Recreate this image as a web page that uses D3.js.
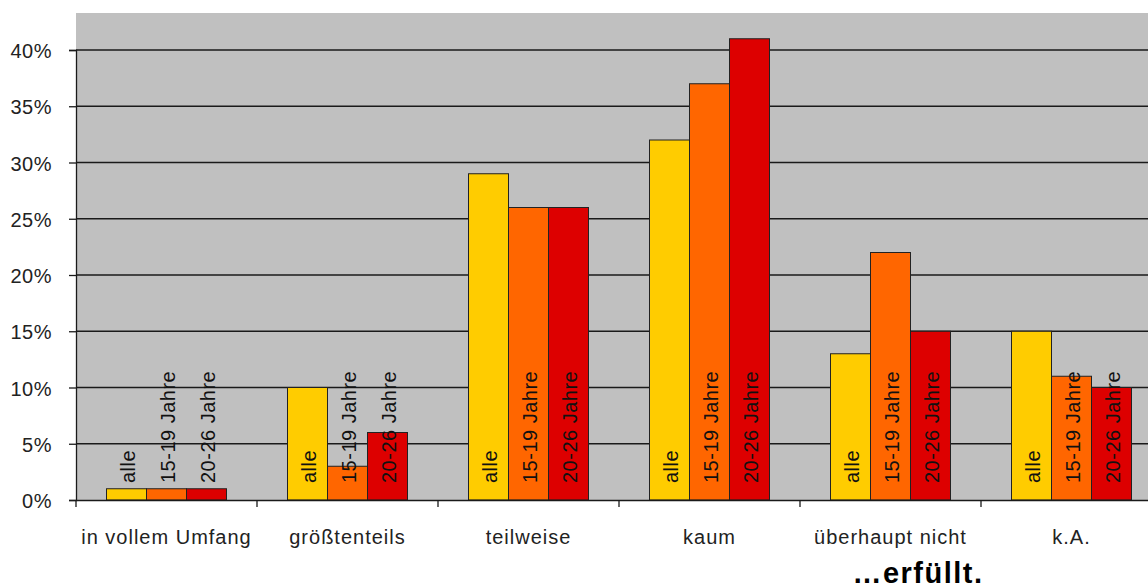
<!DOCTYPE html>
<html>
<head>
<meta charset="utf-8">
<script src="https://cdn.jsdelivr.net/npm/d3@7"></script>
<style>
  html, body { margin: 0; padding: 0; background: #fff; }
  svg { display: block; font-family: "Liberation Sans", Arial, sans-serif; }
</style>
</head>
<body>
<svg id="chart" width="1148" height="588"></svg>
<script>
// Categories and series
const categories = ["in vollem Umfang", "größtenteils", "teilweise", "kaum", "überhaupt nicht", "k.A."];
const seriesNames = ["alle", "15-19 Jahre", "20-26 Jahre"];
const alle      = [1, 10, 29, 32, 13, 15];
const jahre1519 = [1, 3, 26, 37, 22, 11];
const jahre2026 = [1, 6, 26, 41, 15, 10];
const seriesColors = ["#FFCC00", "#FF6600", "#DD0000"];
const yTicks = [0, 5, 10, 15, 20, 25, 30, 35, 40];
const footerText = "…erfüllt.";

const seriesValues = [alle, jahre1519, jahre2026];

const svg = d3.select("#chart");
const plot = { left: 76, top: 13, bottom: 500, right: 1162 };

const x = d3.scaleBand().domain(categories).range([plot.left, plot.right]).paddingInner(0).paddingOuter(0);
const xs = d3.scaleBand().domain(seriesNames).range([0, x.bandwidth()]).paddingInner(0).paddingOuter(0.7625);
const y = d3.scaleLinear().domain([0, 40]).range([plot.bottom, 50]);

// Plot background
svg.append("rect")
  .attr("x", plot.left).attr("y", plot.top)
  .attr("width", plot.right - plot.left).attr("height", plot.bottom - plot.top)
  .attr("fill", "#C0C0C0");

// Horizontal gridlines
svg.append("g").selectAll("line").data(yTicks.filter(d => d > 0)).join("line")
  .attr("x1", plot.left).attr("x2", plot.right)
  .attr("y1", d => y(d)).attr("y2", d => y(d))
  .attr("stroke", "#1a1a1a").attr("stroke-width", 1.3);

// Y axis
const yAxis = d3.axisLeft(y).tickValues(yTicks).tickFormat(d => d + "%").tickSize(7).tickPadding(17);
const gy = svg.append("g").attr("transform", `translate(${plot.left},0)`).call(yAxis);
gy.select(".domain").attr("stroke", "#1a1a1a").attr("stroke-width", 1.3);
gy.selectAll(".tick line").attr("stroke", "#1a1a1a").attr("stroke-width", 1.3);
gy.selectAll(".tick text")
  .attr("font-size", 20).attr("fill", "#222").attr("letter-spacing", 0.5)
  .attr("dy", 7.5).attr("font-family", "Liberation Sans, Arial, sans-serif");

// Bars
const rows = categories.map((c, i) => ({ cat: c, vals: seriesNames.map((s, j) => ({ s, j, v: seriesValues[j][i] })) }));
const groups = svg.append("g").selectAll("g").data(rows).join("g")
  .attr("transform", d => `translate(${x(d.cat)},0)`);

groups.selectAll("rect").data(d => d.vals).join("rect")
  .attr("x", d => xs(d.s)).attr("width", xs.bandwidth())
  .attr("y", d => y(d.v)).attr("height", d => y(0) - y(d.v))
  .attr("fill", d => seriesColors[d.j])
  .attr("stroke", "#222").attr("stroke-width", 1);

// Series labels inside bars, rotated
groups.selectAll("text").data(d => d.vals).join("text")
  .attr("transform", d => `translate(${xs(d.s) + xs.bandwidth() / 2},${y(0) - 17}) rotate(-90)`)
  .attr("y", 8.5)
  .attr("font-size", 20).attr("letter-spacing", 0.5).attr("fill", "#111")
  .text(d => d.s);

// X axis
const xAxis = d3.axisBottom(x).tickSize(0).tickPadding(0).tickFormat("");
const gx = svg.append("g").attr("transform", `translate(0,${plot.bottom})`).call(xAxis);
gx.select(".domain").attr("stroke", "#1a1a1a").attr("stroke-width", 1.3);
gx.selectAll(".tick").remove();

// Category boundary ticks
svg.append("g").selectAll("line").data(categories).join("line")
  .attr("x1", d => x(d)).attr("x2", d => x(d))
  .attr("y1", plot.bottom).attr("y2", plot.bottom + 7)
  .attr("stroke", "#1a1a1a").attr("stroke-width", 1.3);

// Category labels
svg.append("g").selectAll("text").data(categories).join("text")
  .attr("x", d => x(d) + x.bandwidth() / 2).attr("y", 544)
  .attr("text-anchor", "middle")
  .attr("font-size", 20).attr("letter-spacing", 1).attr("fill", "#222")
  .text(d => d);

// Footer
svg.append("text")
  .attr("x", 918).attr("y", 583)
  .attr("text-anchor", "middle")
  .attr("font-size", 29).attr("font-weight", "bold").attr("letter-spacing", 1.5)
  .attr("fill", "#000")
  .text(footerText);
</script>
</body>
</html>
